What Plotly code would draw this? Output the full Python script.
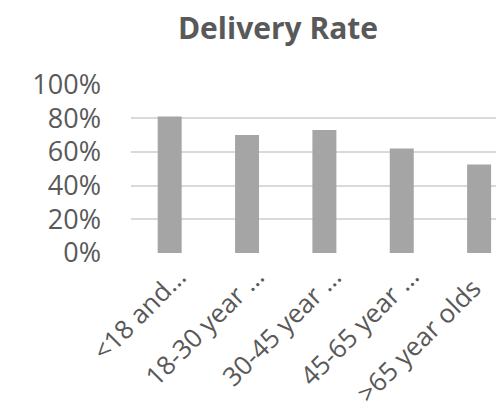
import plotly.graph_objects as go

categories = ["<18 and…", "18-30 year …", "30-45 year …", "45-65 year …", ">65 year olds"]
delivery_rate = [0.81, 0.70, 0.73, 0.62, 0.525]
y_tickvals = [0, 0.2, 0.4, 0.6, 0.8, 1.0]
y_ticktext = ["0%", "20%", "40%", "60%", "80%", "100%"]

FONT = "Open Sans"
GREY = "#595959"

fig = go.Figure(go.Bar(x=categories, y=delivery_rate, marker=dict(color="#A5A5A5", line=dict(width=0))))

# rotated category labels (offsets tuned per label, like Excel's layout)
x_shift = [27, 27, 27, 27, 12]
y_shift = [-3, -3, -3, -3, -15]
for cat, dx, dy in zip(categories, x_shift, y_shift):
    fig.add_annotation(x=cat, y=0, xref="x", yref="y", text=cat, showarrow=False,
                       textangle=-45, xanchor="right", yanchor="top",
                       xshift=dx, yshift=dy,
                       font=dict(family=FONT, size=26, color=GREY))

fig.update_layout(
    width=504, height=416,
    margin=dict(l=123, r=0, t=76, b=171, autoexpand=False),
    paper_bgcolor="white", plot_bgcolor="white",
    bargap=0.69,
    showlegend=False,
    font=dict(family=FONT, color=GREY, size=27),
    title=dict(text="<b>Delivery Rate</b>", x=270/504, xanchor="center", y=1-20/416, yanchor="middle",
               font=dict(family=FONT, size=30, color=GREY)),
    xaxis=dict(range=[-0.5, 4.425], showticklabels=False, showgrid=False, zeroline=False, showline=False,
               automargin=False),
    yaxis=dict(range=[0, 1.002], tickvals=y_tickvals, ticktext=y_ticktext, showgrid=True,
               gridcolor="#D9D9D9", gridwidth=1.5, zeroline=False, showline=False, automargin=False,
               ticklabelstandoff=29, tickfont=dict(family=FONT, size=27, color=GREY)),
)

fig.write_html("out.html")
